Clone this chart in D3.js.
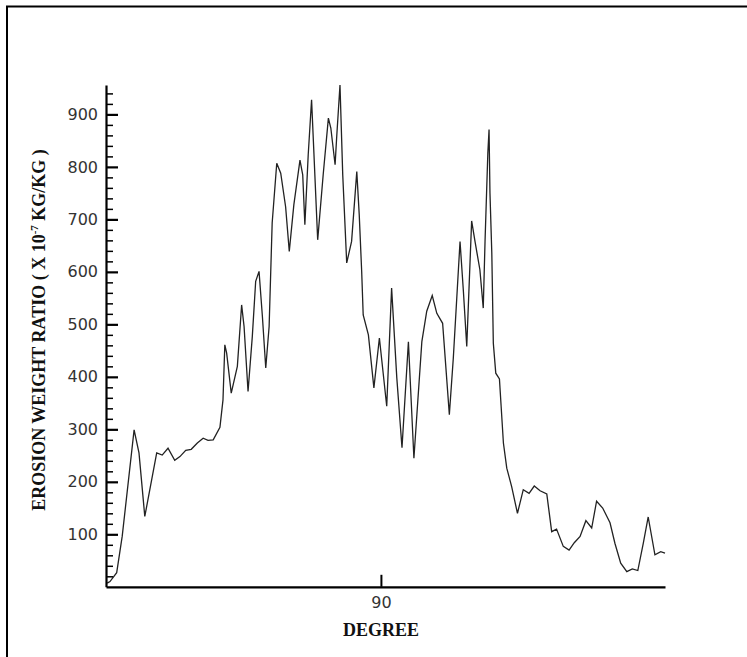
<!DOCTYPE html>
<html>
<head>
<meta charset="utf-8">
<script src="https://cdn.jsdelivr.net/npm/d3@7"></script>
<style>
  html, body { margin: 0; padding: 0; background: #fff; }
  svg { display: block; }
</style>
</head>
<body>
<svg id="chart" width="747" height="657"></svg>
<script>
// ---- data ----
const degrees = [0.4, 1.3, 3.5, 5.3, 9.2, 10.8, 12.7, 16.6, 18.4, 20.3, 22.5, 24.2, 26.1, 27.9, 29.9, 31.8, 33.4, 35.1, 37.3, 38.3,
  38.9, 39.5, 41.0, 43.0, 44.4, 45.2, 46.5, 47.9, 49.0, 50.1, 51.2, 52.3, 53.4, 54.4, 55.9, 57.2, 58.8, 60.0, 61.5, 63.5,
  64.4, 65.1, 66.2, 67.3, 67.9, 69.3, 71.1, 72.8, 73.6, 75.0, 75.5, 76.6, 77.5, 78.8, 80.4, 82.1, 82.9, 83.7, 84.2, 85.9,
  87.7, 89.5, 91.9, 93.5, 95.2, 96.9, 99.0, 100.8, 103.4, 105.0, 106.8, 108.3, 110.2, 112.4, 113.7, 115.9, 117.0, 118.1, 119.7, 120.8,
  122.4, 123.5, 124.1, 125.0, 125.4, 125.7, 126.3, 126.8, 127.6, 128.8, 130.1, 131.2, 132.8, 134.7, 136.6, 138.5, 140.2, 142.1, 144.3, 145.9,
  147.5, 149.7, 151.6, 153.3, 155.2, 157.1, 159.0, 160.6, 162.6, 165.0, 166.6, 168.5, 170.5, 172.3, 174.1, 175.9, 177.5, 179.7, 181.6, 183.0];
const ratios = [7, 10, 27, 96, 299, 255, 134, 255, 251, 264, 241, 248, 260, 262, 274, 283, 279, 280, 304, 356,
  461, 445, 369, 420, 537, 496, 372, 477, 582, 601, 515, 417, 496, 693, 807, 788, 724, 639, 728, 813,
  785, 690, 823, 928, 848, 661, 785, 893, 874, 804, 855, 956, 785, 617, 658, 791, 709, 601, 518, 480,
  379, 474, 344, 569, 398, 265, 467, 245, 467, 525, 555, 521, 502, 328, 436, 658, 563, 458, 697, 658,
  604, 531, 661, 826, 871, 750, 636, 464, 407, 396, 274, 226, 191, 140, 185, 178, 192, 183, 177, 105,
  110, 77, 70, 84, 96, 126, 112, 163, 150, 122, 83, 45, 29, 34, 31, 83, 133, 61, 67, 64];
const xTickValues = [90];
const yMajorTicks = [100, 200, 300, 400, 500, 600, 700, 800, 900];
const yMinorTicks = [20, 40, 60, 80, 120, 140, 160, 180, 220, 240, 260, 280, 320, 340, 360, 380,
  420, 440, 460, 480, 520, 540, 560, 580, 620, 640, 660, 680, 720, 740, 760, 780, 820, 840, 860, 880, 920, 940];
const xTitle = "DEGREE";

// ---- drawing ----
const svg = d3.select("#chart");
const plotLeft = 106, plotRight = 665, plotBottom = 586.8, plotTop = 85;

const x = d3.scaleLinear().domain([0, 183]).range([plotLeft, plotRight]);
const y = d3.scaleLinear().domain([0, 956]).range([plotBottom, plotTop]);

// frame
svg.append("line").attr("x1", 7).attr("y1", 6).attr("x2", 7).attr("y2", 657)
  .attr("stroke", "#000").attr("stroke-width", 2);
svg.append("line").attr("x1", 6).attr("y1", 6.5).attr("x2", 747).attr("y2", 6.5)
  .attr("stroke", "#000").attr("stroke-width", 2);

// data line
const line = d3.line().x((d, i) => x(degrees[i])).y(d => y(d));
svg.append("path").datum(ratios)
  .attr("d", line)
  .attr("fill", "none")
  .attr("stroke", "#222")
  .attr("stroke-width", 1.3)
  .attr("stroke-linejoin", "miter");

// y minor ticks
const yMinor = svg.append("g").attr("transform", `translate(${plotLeft},0)`)
  .call(d3.axisLeft(y).tickValues(yMinorTicks).tickFormat("").tickSizeInner(-7).tickSizeOuter(0));
yMinor.select(".domain").remove();
yMinor.selectAll(".tick line").attr("stroke", "#000").attr("stroke-width", 1.5);

// y major axis
const yAx = svg.append("g").attr("transform", `translate(${plotLeft},0)`)
  .call(d3.axisLeft(y).tickValues(yMajorTicks).tickSizeInner(-12).tickSizeOuter(0).tickPadding(8));
yAx.select(".domain").attr("stroke", "#000").attr("stroke-width", 2.2);
yAx.selectAll(".tick line").attr("stroke", "#000").attr("stroke-width", 2.2);
yAx.selectAll(".tick text")
  .attr("font-family", "'DejaVu Sans', sans-serif")
  .attr("font-size", 16)
  .attr("fill", "#333");

// x axis
const xAx = svg.append("g").attr("transform", `translate(0,${plotBottom})`)
  .call(d3.axisBottom(x).tickValues(xTickValues).tickSizeInner(-12).tickSizeOuter(0).tickPadding(10));
xAx.select(".domain").attr("stroke", "#000").attr("stroke-width", 2.2);
xAx.selectAll(".tick line").attr("stroke", "#000").attr("stroke-width", 2);
xAx.selectAll(".tick text")
  .attr("font-family", "'DejaVu Sans', sans-serif")
  .attr("font-size", 16)
  .attr("fill", "#333");

// x title
svg.append("text")
  .attr("x", x(90)).attr("y", 636)
  .attr("text-anchor", "middle")
  .attr("font-family", "'Liberation Serif', 'Times New Roman', serif")
  .attr("font-weight", "bold")
  .attr("font-size", 18)
  .attr("fill", "#111")
  .text(xTitle);

// y title
const yt = svg.append("text")
  .attr("transform", "translate(45,330) rotate(-90)")
  .attr("text-anchor", "middle")
  .attr("font-family", "'Liberation Serif', 'Times New Roman', serif")
  .attr("font-weight", "bold")
  .attr("font-size", 18)
  .attr("fill", "#111");
yt.append("tspan").text("EROSION WEIGHT RATIO ( X 10");
yt.append("tspan").attr("font-size", 11).attr("dy", -7).text("-7");
yt.append("tspan").attr("dy", 7).text(" KG/KG )");
</script>
</body>
</html>
